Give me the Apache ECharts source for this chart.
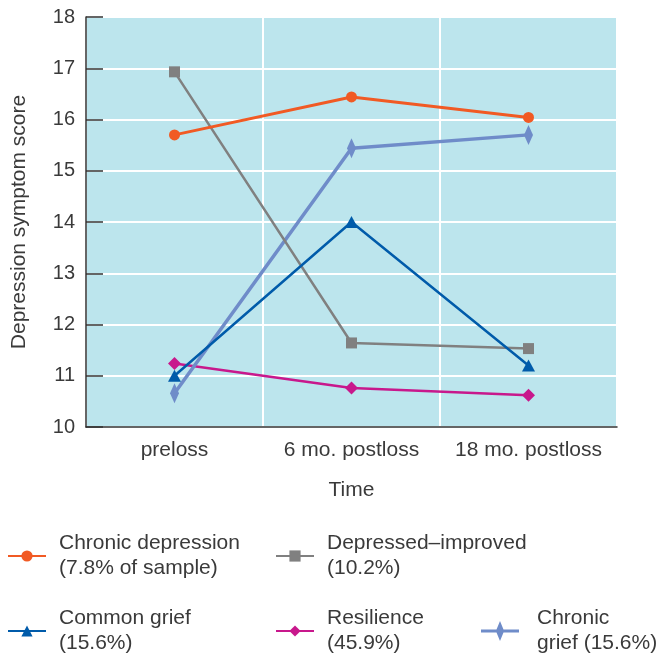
<!DOCTYPE html>
<html>
<head>
<meta charset="utf-8">
<script src="https://cdn.jsdelivr.net/npm/echarts@6/dist/echarts.min.js"></script>
<style>
  html, body { margin: 0; padding: 0; background: #fff; }
  #chart { width: 662px; height: 658px; }
</style>
</head>
<body>
<div id="chart"></div>
<script>
// Time points after spousal loss
const timePoints = ['preloss', '6 mo. postloss', '18 mo. postloss'];

// Mean depression symptom score per trajectory group
const chronicDepression = [15.70, 16.44, 16.04];
const depressedImproved = [16.93, 11.64, 11.53];
const commonGrief = [11.0, 14.0, 11.2];
const resilience = [11.24, 10.76, 10.62];
const chronicGrief = [10.66, 15.44, 15.70];

// Legend wording (two lines each)
const legendText = {
  'Chronic depression': 'Chronic depression\n(7.8% of sample)',
  'Depressed–improved': 'Depressed–improved\n(10.2%)',
  'Common grief': 'Common grief\n(15.6%)',
  'Resilience': 'Resilience\n(45.9%)',
  'Chronic grief': 'Chronic\ngrief (15.6%)'
};

const FONT = 'Liberation Sans';
const TEXT = '#3a3a3a';

// Line stroke with a tall narrow diamond in the middle, for the chronic grief key
const thinDiamondKey = 'path://M0 8.5 L15.5 8.5 L19 0 L22.5 8.5 L38 8.5 L38 11.5 L22.5 11.5 L19 20 L15.5 11.5 L0 11.5 Z';

const chart = echarts.init(document.getElementById('chart'), null, { renderer: 'canvas' });

function legendAt(name, left, top, textGap, icon) {
  const item = icon ? { name: name, icon: icon } : name;
  return {
    data: [item],
    left: left,
    top: top,
    padding: 0,
    itemWidth: 38,
    itemHeight: icon ? 20 : 14,
    selectedMode: false,
    formatter: n => legendText[n],
    textStyle: {
      fontFamily: FONT,
      fontSize: 21,
      lineHeight: 25,
      color: TEXT,
      padding: [0, 0, 6, textGap]
    }
  };
}

chart.setOption({
  animation: false,
  backgroundColor: '#ffffff',
  textStyle: { fontFamily: FONT },
  grid: {
    left: 86, right: 45, top: 17, bottom: 231,
    show: true,
    backgroundColor: '#bce5ed',
    borderWidth: 0
  },
  legend: [
    legendAt('Chronic depression', 7, 528, 8),
    legendAt('Depressed–improved', 275, 528, 8),
    legendAt('Common grief', 7, 603, 8),
    legendAt('Resilience', 275, 603, 8),
    legendAt('Chronic grief', 481, 603, 13, thinDiamondKey)
  ],
  xAxis: {
    type: 'category',
    data: timePoints,
    boundaryGap: true,
    name: 'Time',
    nameLocation: 'middle',
    nameGap: 53,
    nameTextStyle: { fontFamily: FONT, fontSize: 21, color: TEXT },
    axisLine: { lineStyle: { color: '#333', width: 1.5 } },
    axisTick: { interval: 0, inside: true, length: 16, lineStyle: { color: '#333', width: 1.5 } },
    axisLabel: { interval: 0, fontFamily: FONT, fontSize: 21, color: TEXT, margin: 13 },
    splitLine: { show: true, interval: 0, lineStyle: { color: '#ffffff', width: 2 } }
  },
  yAxis: {
    type: 'value',
    min: 10,
    max: 18,
    interval: 1,
    name: 'Depression symptom score',
    nameLocation: 'middle',
    nameRotate: 90,
    nameGap: 56,
    nameTextStyle: { fontFamily: FONT, fontSize: 21, color: TEXT },
    axisLine: { show: true, lineStyle: { color: '#333', width: 1.5 } },
    axisTick: { show: true, inside: true, length: 17, lineStyle: { color: '#333', width: 1.5 } },
    axisLabel: { fontFamily: FONT, fontSize: 20, color: TEXT, margin: 11 },
    splitLine: { show: true, lineStyle: { color: '#ffffff', width: 2 } }
  },
  series: [
    {
      name: 'Resilience', type: 'line', data: resilience,
      symbol: 'diamond', symbolSize: 13,
      lineStyle: { color: '#c8188c', width: 2.5 },
      itemStyle: { color: '#c8188c' }
    },
    {
      name: 'Chronic grief', type: 'line', data: chronicGrief,
      symbol: 'diamond', symbolSize: [9, 20],
      lineStyle: { color: '#6f8cc9', width: 3.5 },
      itemStyle: { color: '#6f8cc9' }
    },
    {
      name: 'Depressed–improved', type: 'line', data: depressedImproved,
      symbol: 'rect', symbolSize: 11,
      lineStyle: { color: '#808080', width: 2.5 },
      itemStyle: { color: '#808080' }
    },
    {
      name: 'Common grief', type: 'line', data: commonGrief,
      symbol: 'triangle', symbolSize: [13, 12],
      lineStyle: { color: '#005baa', width: 2.5 },
      itemStyle: { color: '#005baa' }
    },
    {
      name: 'Chronic depression', type: 'line', data: chronicDepression,
      symbol: 'circle', symbolSize: 11,
      lineStyle: { color: '#f15a24', width: 3 },
      itemStyle: { color: '#f15a24' }
    }
  ]
});
</script>
</body>
</html>
